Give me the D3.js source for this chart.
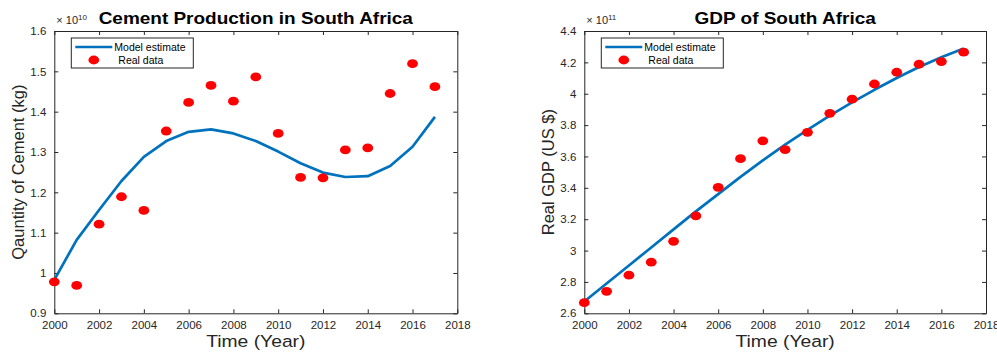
<!DOCTYPE html>
<html>
<head>
<meta charset="utf-8">
<script src="https://cdn.jsdelivr.net/npm/d3@7/dist/d3.min.js"></script>
<style>
  body { margin: 0; background: #fff; }
  svg { display: block; font-family: "Liberation Sans", Arial, Helvetica, sans-serif; }
</style>
</head>
<body>
<svg id="chart" width="997" height="352"></svg>
<script>
// Years of observation
const years = [2000, 2001, 2002, 2003, 2004, 2005, 2006, 2007, 2008,
               2009, 2010, 2011, 2012, 2013, 2014, 2015, 2016, 2017];

// Cement production (units of 1e10 kg)
const cementReal = [0.978, 0.969, 1.121, 1.189, 1.155, 1.352, 1.423, 1.465, 1.426,
                    1.486, 1.346, 1.237, 1.236, 1.305, 1.310, 1.445, 1.519, 1.462];
const cementModel = [0.983, 1.082, 1.156, 1.228, 1.288, 1.327, 1.350, 1.356, 1.346,
                     1.327, 1.301, 1.272, 1.249, 1.238, 1.240, 1.265, 1.313, 1.387];

// Real GDP (units of 1e11 US $)
const gdpReal = [2.668, 2.740, 2.843, 2.926, 3.059, 3.221, 3.403, 3.586, 3.700,
                 3.643, 3.754, 3.875, 3.965, 4.062, 4.137, 4.188, 4.205, 4.265];
const gdpModel = [2.675, 2.790, 2.905, 3.020, 3.135, 3.250, 3.360, 3.470, 3.575,
                  3.675, 3.770, 3.860, 3.945, 4.025, 4.100, 4.170, 4.232, 4.288];

const xTicks = [2000, 2002, 2004, 2006, 2008, 2010, 2012, 2014, 2016, 2018];
const cementTicks = [0.9, 1.0, 1.1, 1.2, 1.3, 1.4, 1.5, 1.6];
const gdpTicks = [2.6, 2.8, 3.0, 3.2, 3.4, 3.6, 3.8, 4.0, 4.2, 4.4];

const svg = d3.select("#chart");
const axisColor = "#262626";
const lineColor = "#0072BD";

function panel(opts) {
  const { left, right, top, bottom, yDomain, yTicks, real, model,
          title, yLabel, exponent } = opts;
  const x = d3.scaleLinear().domain([2000, 2018]).range([left, right]);
  const y = d3.scaleLinear().domain(yDomain).range([bottom, top]);
  const g = svg.append("g");

  // Box axes with inward ticks on all four sides
  const fmtX = d3.format("d");
  const bottomAxis = g.append("g").attr("transform", `translate(0,${bottom})`)
    .call(d3.axisBottom(x).tickValues(xTicks).tickFormat(fmtX).tickSizeInner(-4).tickSizeOuter(0).tickPadding(8));
  const topAxis = g.append("g").attr("transform", `translate(0,${top})`)
    .call(d3.axisTop(x).tickValues(xTicks).tickFormat("").tickSizeInner(-4).tickSizeOuter(0));
  const fmtY = v => (Math.abs(v - Math.round(v)) < 1e-9 ? String(Math.round(v)) : d3.format(".1f")(v));
  const leftAxis = g.append("g").attr("transform", `translate(${left},0)`)
    .call(d3.axisLeft(y).tickValues(yTicks).tickFormat(fmtY).tickSizeInner(-4).tickSizeOuter(0).tickPadding(8));
  const rightAxis = g.append("g").attr("transform", `translate(${right},0)`)
    .call(d3.axisRight(y).tickValues(yTicks).tickFormat("").tickSizeInner(-4).tickSizeOuter(0));

  [bottomAxis, topAxis, leftAxis, rightAxis].forEach(a => {
    a.select(".domain").attr("stroke", axisColor).attr("stroke-width", 1);
    a.selectAll(".tick line").attr("stroke", axisColor);
    a.selectAll(".tick text").attr("fill", axisColor).attr("font-size", 11.5)
      .attr("font-family", "'Liberation Sans', Arial, sans-serif");
  });
  bottomAxis.selectAll(".tick text").attr("dy", "0.71em");

  // Model curve
  const line = d3.line().x((d, i) => x(years[i])).y(d => y(d));
  g.append("path").datum(model)
    .attr("d", line).attr("fill", "none")
    .attr("stroke", lineColor).attr("stroke-width", 2.7)
    .attr("stroke-linejoin", "round");

  // Observed values
  g.selectAll("ellipse.pt").data(real).join("ellipse")
    .attr("class", "pt")
    .attr("cx", (d, i) => x(years[i])).attr("cy", d => y(d))
    .attr("rx", 5.4).attr("ry", 4.4).attr("fill", "#ff0000");

  // Title (slightly widened lettering)
  g.append("text")
    .attr("transform", `translate(${(left + right) / 2},24) scale(1.15,1)`)
    .attr("text-anchor", "middle").attr("font-weight", "bold")
    .attr("font-size", 16.5).attr("fill", "#000").text(title);

  // Exponent marker
  const ex = g.append("text").attr("x", left + 2).attr("y", top - 7)
    .attr("font-size", 11).attr("fill", axisColor);
  ex.append("tspan").text("\u00d7 10");
  ex.append("tspan").attr("font-size", 8).attr("dy", -4).text(exponent);

  // Axis labels
  g.append("text")
    .attr("transform", `translate(${(left + right) / 2},${bottom + 34}) scale(1.17,1)`)
    .attr("text-anchor", "middle").attr("font-size", 16.5).attr("fill", axisColor)
    .text("Time (Year)");
  g.append("text")
    .attr("transform", `translate(${left - 30},${(top + bottom) / 2}) rotate(-90)`)
    .attr("text-anchor", "middle").attr("font-size", 16.5).attr("fill", axisColor)
    .text(yLabel);

  // Legend
  const lg = g.append("g").attr("transform", `translate(${left + 17},${top + 7})`);
  lg.append("rect").attr("width", 122).attr("height", 30)
    .attr("fill", "#fff").attr("stroke", axisColor).attr("stroke-width", 1);
  lg.append("line").attr("x1", 4).attr("x2", 41).attr("y1", 9).attr("y2", 9)
    .attr("stroke", lineColor).attr("stroke-width", 2.7);
  lg.append("text").attr("x", 43).attr("y", 13).attr("font-size", 10.5)
    .attr("fill", "#000").text("Model estimate");
  lg.append("ellipse").attr("cx", 22.5).attr("cy", 22).attr("rx", 5.4).attr("ry", 4.4)
    .attr("fill", "#ff0000");
  lg.append("text").attr("x", 47).attr("y", 26).attr("font-size", 10.5)
    .attr("fill", "#000").text("Real data");
}

panel({
  left: 54.3, right: 457.3, top: 31, bottom: 313.3,
  yDomain: [0.9, 1.6], yTicks: cementTicks,
  real: cementReal, model: cementModel,
  title: "Cement Production in South Africa",
  yLabel: "Qauntity of Cement (kg)", exponent: "10"
});

panel({
  left: 584.3, right: 986, top: 31, bottom: 313.3,
  yDomain: [2.6, 4.4], yTicks: gdpTicks,
  real: gdpReal, model: gdpModel,
  title: "GDP of South Africa",
  yLabel: "Real GDP (US $)", exponent: "11"
});
</script>
</body>
</html>
